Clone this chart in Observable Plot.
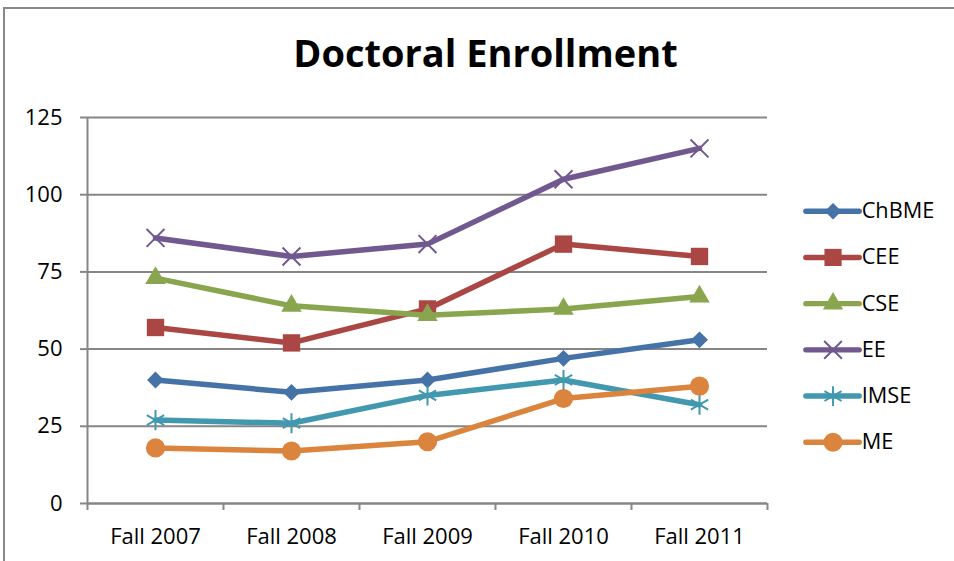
<!DOCTYPE html>
<html>
<head>
<meta charset="utf-8">
<script src="https://cdn.jsdelivr.net/npm/d3@7"></script>
<script src="https://cdn.jsdelivr.net/npm/@observablehq/plot@0.6"></script>
<style>
  html, body { margin: 0; padding: 0; background: #fff; overflow: hidden; }
  #wrap { position: relative; width: 954px; height: 561px; font-family: "Open Sans", Lato, sans-serif; }
  #border { position: absolute; left: 3px; top: 7px; width: 1000px; height: 600px; border: 2px solid #888; box-sizing: border-box; }
  #title { position: absolute; left: 0; width: 971px; top: 26px; text-align: center; font-size: 38px; font-weight: bold; color: #000; white-space: nowrap; }
  #chart { position: absolute; left: 0; top: 0; }
  #legend { position: absolute; left: 796px; top: 188px; }
</style>
</head>
<body>
<div id="wrap">
  <div id="border"></div>
  <div id="title">Doctoral Enrollment</div>
  <div id="chart"></div>
  <div id="legend"></div>
</div>
<script>
const categories = ["Fall 2007", "Fall 2008", "Fall 2009", "Fall 2010", "Fall 2011"];
const seriesNames = ["ChBME", "CEE", "CSE", "EE", "IMSE", "ME"];
const ChBME = [40, 36, 40, 47, 53];
const CEE = [57, 52, 63, 84, 80];
const CSE = [73, 64, 61, 63, 67];
const EE = [86, 80, 84, 105, 115];
const IMSE = [27, 26, 35, 40, 32];
const ME = [18, 17, 20, 34, 38];
const yTicks = [0, 25, 50, 75, 100, 125];

const colors = ["#4572A7", "#AA4643", "#89A54E", "#71588F", "#4198AF", "#DB843D"];
const symbols = ["diamond2", "square", "triangle", "times", "asterisk", "circle"];
const filled = [true, true, true, false, false, true];
const sizes = [7.6, 9.8, 7.6, 8.2, 9.5, 9.6];
const valuesBySeries = [ChBME, CEE, CSE, EE, IMSE, ME];

const rows = [];
seriesNames.forEach((s, si) => valuesBySeries[si].forEach((v, i) => rows.push({series: s, si, i, value: v})));

const gray = "#868686";
const font = "'Open Sans', Lato, sans-serif";
const idx = categories.map((_, i) => i);
const bounds = categories.map((_, i) => i - 0.5).concat([categories.length - 0.5]);

const marks = [
  Plot.gridY(yTicks, {stroke: gray, strokeOpacity: 1, strokeWidth: 2}),
  Plot.axisY(yTicks, {tickSize: 7, tickPadding: 18, stroke: gray, strokeWidth: 2, fill: "#000", fontSize: 22, label: null}),
  Plot.axisX(idx, {tickSize: 0, tickPadding: 25, tickFormat: i => categories[i], fill: "#000", fontSize: 22, label: null}),
  Plot.axisX(bounds, {tickSize: 7, stroke: gray, strokeWidth: 2, text: null, label: null}),
  Plot.ruleX([-0.5], {stroke: gray, strokeWidth: 2}),
  Plot.ruleY([0], {stroke: gray, strokeWidth: 2})
];
seriesNames.forEach((s, si) => {
  const data = rows.filter(d => d.si === si);
  marks.push(Plot.line(data, {x: "i", y: "value", stroke: colors[si], strokeWidth: 5.5, strokeLinejoin: "round", strokeLinecap: "round"}));
  marks.push(Plot.dot(data, {
    x: "i", y: "value", symbol: () => symbols[si], r: sizes[si],
    fill: filled[si] ? colors[si] : "none",
    stroke: colors[si], strokeWidth: filled[si] ? 0 : 2
  }));
});

const chart = Plot.plot({
  width: 954, height: 561,
  marginLeft: 87, marginRight: 187, marginTop: 117, marginBottom: 58,
  style: {fontFamily: font, background: "transparent", overflow: "visible"},
  x: {type: "linear", domain: [-0.5, categories.length - 0.5], axis: null},
  y: {domain: [0, 125], axis: null},
  symbol: {type: "identity"},
  marks
});
document.getElementById("chart").appendChild(chart);

// Legend
const legendRows = seriesNames.map((s, si) => ({series: s, si}));
const legend = Plot.plot({
  width: 160, height: 280,
  marginLeft: 10, marginRight: 96, marginTop: 23, marginBottom: 23,
  style: {fontFamily: font, background: "transparent", overflow: "visible"},
  x: {domain: [0, 1], axis: null},
  y: {type: "point", domain: seriesNames, padding: 0, round: false, axis: null},
  symbol: {type: "identity"},
  marks: [
    Plot.ruleY(legendRows, {y: "series", x1: 0, x2: 1, stroke: d => colors[d.si], strokeWidth: 5.5, strokeLinecap: "round"}),
    ...legendRows.map(d => Plot.dot([d], {
      x: () => 0.5, y: "series", symbol: () => symbols[d.si], r: sizes[d.si],
      fill: filled[d.si] ? colors[d.si] : "none", stroke: colors[d.si], strokeWidth: filled[d.si] ? 0 : 2
    })),
    Plot.text(legendRows, {x: () => 1, y: "series", text: "series", textAnchor: "start", dx: 2, fontSize: 22, fill: "#000"})
  ]
});
document.getElementById("legend").appendChild(legend);
</script>
</body>
</html>
